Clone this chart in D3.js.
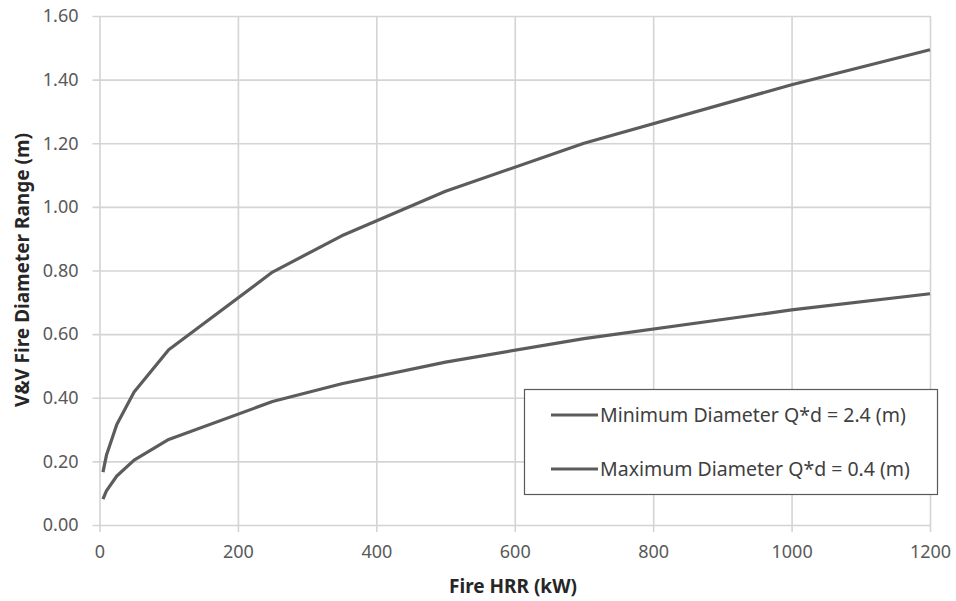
<!DOCTYPE html>
<meta charset="utf-8">
<style>
    body { margin: 0; background: #fff; }
    .tick text { font-family: "Noto Sans", sans-serif; font-size: 18px; fill: #595959; }
    .grid line, .grid path { stroke: #d4d4d4; stroke-width: 1.6; }
    .title { font-family: "Noto Sans", sans-serif; font-size: 19px; font-weight: bold; fill: #262626; }
    .legend text { font-family: "Noto Sans", sans-serif; font-size: 19.5px; fill: #404040; }
</style>
<svg width="956" height="601"></svg>
<script src="https://cdn.jsdelivr.net/npm/d3@7"></script>
<script>
    // fire heat release rate (kW)
    var hrr = [5, 10, 25, 50, 100, 250, 350, 500, 700, 1000, 1200];
    // diameter (m)
    var minDiameter = [0.081, 0.107, 0.154, 0.204, 0.269, 0.388, 0.444, 0.512, 0.586, 0.676, 0.727];
    var maxDiameter = [0.166, 0.219, 0.316, 0.418, 0.551, 0.795, 0.909, 1.049, 1.200, 1.384, 1.494];
    var xTicks = [0, 200, 400, 600, 800, 1000, 1200];
    var yTicks = [0, 0.2, 0.4, 0.6, 0.8, 1.0, 1.2, 1.4, 1.6];
    var seriesNames = ["Minimum Diameter Q*d = 2.4 (m)", "Maximum Diameter Q*d = 0.4 (m)"];

    (function () {
        var svg = d3.select("svg"),
            left = 99.5, right = 930, top = 16, bottom = 525,
            w = right - left, h = bottom - top,
            x = d3.scaleLinear().domain([0, 1200]).range([left, right]),
            y = d3.scaleLinear().domain([0, 1.6]).range([bottom, top]),
            lineColor = "#5c5c5c";

        // horizontal grid + ticks to the left
        svg.append("g")
            .attr("class", "grid")
            .attr("transform", "translate(" + (left - 7) + ",0)")
            .call(d3.axisRight(y).tickValues(yTicks).tickSize(w + 7).tickFormat(""))
            .call(function (g) { g.select(".domain").remove(); });
        // vertical grid + ticks below
        svg.append("g")
            .attr("class", "grid")
            .attr("transform", "translate(0," + top + ")")
            .call(d3.axisBottom(x).tickValues(xTicks).tickSize(h + 7).tickFormat(""))
            .call(function (g) { g.select(".domain").remove(); });

        // labels
        svg.append("g")
            .attr("transform", "translate(" + left + ",0)")
            .call(d3.axisLeft(y).tickValues(yTicks).tickSize(0).tickPadding(21).tickFormat(d3.format(".2f")))
            .call(function (g) { g.select(".domain").remove(); });
        svg.append("g")
            .attr("transform", "translate(0," + bottom + ")")
            .call(d3.axisBottom(x).tickValues(xTicks).tickSize(0).tickPadding(20).tickFormat(d3.format("d")))
            .call(function (g) { g.select(".domain").remove(); });

        var line = d3.line()
            .x(function (d) { return x(d[0]); })
            .y(function (d) { return y(d[1]); });

        [minDiameter, maxDiameter].forEach(function (vals) {
            svg.append("path")
                .datum(d3.zip(hrr, vals))
                .attr("d", line)
                .attr("fill", "none")
                .attr("stroke", lineColor)
                .attr("stroke-width", 3.2)
                .attr("stroke-linejoin", "round");
        });

        svg.append("text")
            .attr("class", "title")
            .attr("x", 513)
            .attr("y", 593)
            .attr("text-anchor", "middle")
            .text("Fire HRR (kW)");
        svg.append("text")
            .attr("class", "title")
            .attr("transform", "translate(29," + 270 + ") rotate(-90)")
            .attr("text-anchor", "middle")
            .text("V&V Fire Diameter Range (m)");

        // legend
        var lg = svg.append("g").attr("class", "legend");
        lg.append("rect")
            .attr("x", 524.5).attr("y", 389.5)
            .attr("width", 413).attr("height", 105)
            .attr("fill", "#fff").attr("stroke", "#595959").attr("stroke-width", 1.2);
        seriesNames.forEach(function (name, i) {
            var ly = 415 + i * 54;
            lg.append("line")
                .attr("x1", 551).attr("x2", 598)
                .attr("y1", ly).attr("y2", ly)
                .attr("stroke", lineColor).attr("stroke-width", 3.2);
            lg.append("text")
                .attr("x", 600).attr("y", ly)
                .attr("dy", "0.35em")
                .text(name);
        });
    })();
</script>
